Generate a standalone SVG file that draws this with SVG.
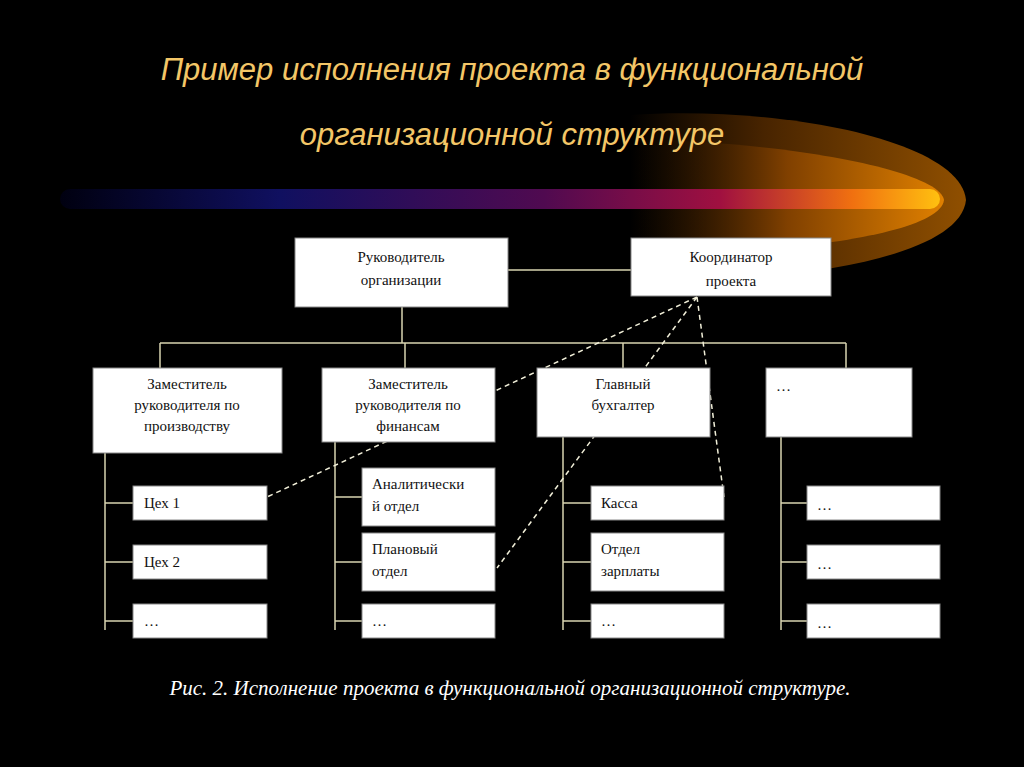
<svg xmlns="http://www.w3.org/2000/svg" width="1024" height="767" viewBox="0 0 1024 767">
<defs>
<linearGradient id="bar" x1="0" x2="1" y1="0" y2="0">
<stop offset="0" stop-color="#000010"/><stop offset="0.25" stop-color="#101060"/><stop offset="0.55" stop-color="#500a50"/><stop offset="0.75" stop-color="#a01040"/><stop offset="0.9" stop-color="#f07010"/><stop offset="1" stop-color="#ffc010"/>
</linearGradient>
<linearGradient id="glow" x1="0" x2="1" y1="0" y2="0">
<stop offset="0" stop-color="#000"/><stop offset="0.4" stop-color="#603000"/><stop offset="1" stop-color="#c06a00"/>
</linearGradient>
<linearGradient id="glow2" x1="0" x2="1" y1="0" y2="0">
<stop offset="0" stop-color="#000" stop-opacity="0"/><stop offset="0.5" stop-color="#804000"/><stop offset="1" stop-color="#e08000"/>
</linearGradient>
<style>
.b{fill:#fff;stroke:#888;stroke-width:1}
.t{font-family:"Liberation Serif",serif;font-size:15px;fill:#111}
.c{stroke:#d8d4b0;stroke-width:1.5;fill:none}
.d{stroke:#f0eed8;stroke-width:1.5;stroke-dasharray:5,4;fill:none}
.h{font-family:"Liberation Sans",sans-serif;font-style:italic;font-size:31px;fill:#f3c667}
</style>
</defs>
<rect width="1024" height="767" fill="#000"/>
<path d="M630,115 C780,105 960,140 966,200 C960,260 780,285 630,280 Z" fill="url(#glow)" opacity="0.75"/>
<path d="M630,140 C780,140 940,170 944,200 C940,235 780,255 630,255 Z" fill="url(#glow2)"/>
<rect x="60" y="189" width="880" height="20" rx="10" fill="url(#bar)"/>
<text class="h" x="512" y="80" text-anchor="middle">Пример исполнения проекта в функциональной</text>
<text class="h" x="512" y="145" text-anchor="middle">организационной структуре</text>
<g id="connectors">
<path class="c" d="M508,270 H631 M402,307 V343 M160,343 H846 M160,343 V368 M405,343 V368 M623,343 V368 M846,343 V368"/>
<path class="c" d="M105,453 V630 M105,503 H133 M105,562 H133 M105,621 H133"/>
<path class="c" d="M335,442 V630 M335,497 H362 M335,562 H362 M335,621 H362"/>
<path class="c" d="M563,437 V630 M563,503 H591 M563,562 H591 M563,621 H591"/>
<path class="c" d="M781,437 V630 M781,503 H807 M781,562 H807 M781,621 H807"/>
<path class="d" d="M697,297 L267,497 M697,297 L497,568 M697,297 L724,497"/>
</g>
<g id="n-head"><rect class="b" x="295" y="238" width="213" height="69"/><text class="t" text-anchor="middle" x="401" y="262">Руководитель</text><text class="t" text-anchor="middle" x="401" y="285">организации</text></g>
<g id="n-coord"><rect class="b" x="631" y="238" width="200" height="58"/><text class="t" text-anchor="middle" x="731" y="262">Координатор</text><text class="t" text-anchor="middle" x="731" y="286">проекта</text></g>
<g id="n-prod"><rect class="b" x="93" y="368" width="189" height="85"/><text class="t" text-anchor="middle" x="187" y="389">Заместитель</text><text class="t" text-anchor="middle" x="187" y="410">руководителя по</text><text class="t" text-anchor="middle" x="187" y="431">производству</text></g>
<g id="n-fin"><rect class="b" x="322" y="368" width="173" height="74"/><text class="t" text-anchor="middle" x="408" y="389">Заместитель</text><text class="t" text-anchor="middle" x="408" y="410">руководителя по</text><text class="t" text-anchor="middle" x="408" y="431">финансам</text></g>
<g id="n-acc"><rect class="b" x="537" y="368" width="173" height="69"/><text class="t" text-anchor="middle" x="623" y="389">Главный</text><text class="t" text-anchor="middle" x="623" y="410">бухгалтер</text></g>
<g id="n-etc"><rect class="b" x="766" y="368" width="146" height="69"/><text class="t" x="776" y="391">…</text></g>
<g id="n-c1"><rect class="b" x="133" y="486" width="134" height="34"/><text class="t" x="144" y="508">Цех 1</text></g>
<g id="n-c2"><rect class="b" x="133" y="545" width="134" height="34"/><text class="t" x="144" y="567">Цех 2</text></g>
<g id="n-c3"><rect class="b" x="133" y="604" width="134" height="34"/><text class="t" x="144" y="626">…</text></g>
<g id="n-f1"><rect class="b" x="362" y="468" width="133" height="58"/><text class="t" x="372" y="489">Аналитически</text><text class="t" x="372" y="511">й отдел</text></g>
<g id="n-f2"><rect class="b" x="362" y="533" width="133" height="58"/><text class="t" x="372" y="554">Плановый</text><text class="t" x="372" y="576">отдел</text></g>
<g id="n-f3"><rect class="b" x="362" y="604" width="133" height="34"/><text class="t" x="372" y="626">…</text></g>
<g id="n-a1"><rect class="b" x="591" y="486" width="133" height="34"/><text class="t" x="601" y="508">Касса</text></g>
<g id="n-a2"><rect class="b" x="591" y="533" width="133" height="58"/><text class="t" x="601" y="554">Отдел</text><text class="t" x="601" y="576">зарплаты</text></g>
<g id="n-a3"><rect class="b" x="591" y="604" width="133" height="34"/><text class="t" x="601" y="626">…</text></g>
<g id="n-e1"><rect class="b" x="807" y="486" width="133" height="34"/><text class="t" x="817" y="510">…</text></g>
<g id="n-e2"><rect class="b" x="807" y="545" width="133" height="34"/><text class="t" x="817" y="569">…</text></g>
<g id="n-e3"><rect class="b" x="807" y="604" width="133" height="34"/><text class="t" x="817" y="628">…</text></g>
<text x="510" y="695" text-anchor="middle" font-family="Liberation Serif,serif" font-style="italic" font-size="21" fill="#fff">Рис. 2. Исполнение проекта в функциональной организационной структуре.</text>
</svg>
